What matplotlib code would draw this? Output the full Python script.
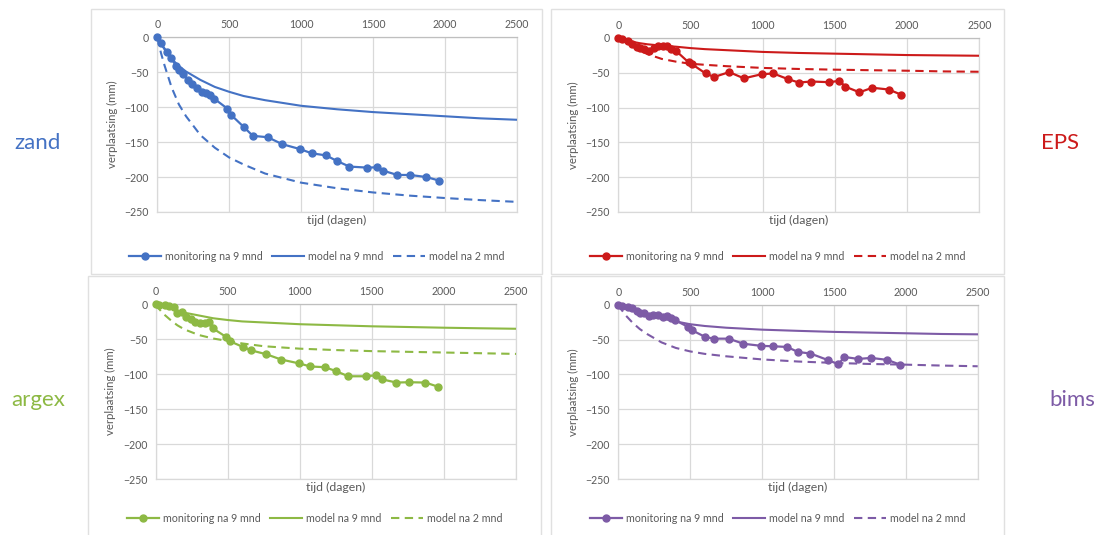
import numpy as np
import matplotlib
matplotlib.use("Agg")
import matplotlib.pyplot as plt
from matplotlib.patches import Rectangle

plt.rcParams["font.family"] = ["Lato", "DejaVu Sans"]

# =====================================================
# DATA
# =====================================================

# monitoring dates (days)
dagen = [0, 25, 65, 95, 130, 148, 181, 211, 244, 274, 309, 339, 367, 397,
         487, 513, 605, 664, 768, 870, 993, 1074, 1174, 1250, 1336, 1462,
         1531, 1573, 1670, 1759, 1872, 1960]

zand_mon = [0, -8.6, -20.5, -29, -41, -47, -52.5, -61, -67, -73, -78, -79, -82.5, -88,
            -102, -111, -129, -141, -143, -153, -160, -166, -169, -177, -185, -186.5,
            -186, -191, -197, -197, -200, -205]
eps_mon = [0, -2, -4, -8, -12.5, -14, -16, -18, -15, -12, -11.5, -11.5, -16, -18,
           -35, -38, -51, -56, -49, -58, -52, -51, -59, -64, -62.5, -63.5,
           -61.5, -70, -78, -71.5, -74, -81.5]
argex_mon = [0, -1, -1.5, -2, -4.5, -12, -11.5, -18, -21, -26, -26.5, -26.5, -25, -34.5,
             -46.5, -52.7, -61, -66, -71.5, -79, -84.5, -89, -90, -95.5, -103, -103,
             -101.5, -107.5, -112, -111.5, -112, -118]
bims_mon = [0, -1.5, -3.3, -5, -9, -11.5, -11.5, -16, -15, -15, -17.6, -16.7, -18.6, -22.4,
            -32, -36.7, -46.3, -48.7, -48.7, -56, -59, -59.6, -60.6, -67.8, -70, -79.7,
            -85.4, -75, -77.8, -76.3, -79.2, -86]

# model curves (days)
model_dagen = [0, 25, 50, 100, 150, 200, 300, 400, 500, 600, 750, 1000, 1250,
               1500, 1750, 2000, 2250, 2500]

zand_9 = [0, -9, -17, -31, -41, -49, -61, -71, -78, -84, -90, -98, -103, -107, -110, -113, -116, -118]
zand_2 = [0, -22, -40, -72, -96, -113, -140, -158, -172, -182, -195, -208, -216, -222, -226.5, -230, -233, -235.5]
eps_9 = [0, -1.5, -3, -5.5, -7.5, -9, -11, -12.5, -14.5, -16, -17.5, -20, -21.5, -22.5, -23.5, -24.5, -25, -25.5]
eps_2 = [0, -3, -6, -12, -18, -23, -30, -34, -37, -38.5, -40.5, -43, -44.5, -45.5, -46.3, -47, -48, -48.5]
argex_9 = [0, -1.5, -3, -6, -9, -12, -16, -20, -22.5, -24.5, -26, -28.5, -30, -31.5, -32.5, -33.5, -34.3, -35]
argex_2 = [0, -7, -13, -22, -30, -36, -44, -49, -52.5, -56, -60, -63.5, -65.5, -67, -68, -69, -70, -71]
bims_9 = [0, -2, -4, -7, -10, -13, -19, -24, -28, -30.5, -33, -35.8, -37.5, -39, -40, -41, -42, -42.5]
bims_2 = [0, -8, -15, -26, -35, -42, -54, -62, -67, -70.5, -74, -78.5, -81.5, -83.5, -85, -86, -87.3, -88.3]

x_ticks = [0, 500, 1000, 1500, 2000, 2500]
y_ticks = [0, -50, -100, -150, -200, -250]

# =====================================================
# LAYOUT (pixels)
# =====================================================
W, H = 1103, 535

panels = [
    # name, colour, monitoring, model 9, model 2, plot box, chart box, label pos
    ("zand", "#4472C4", zand_mon, zand_9, zand_2,
     (157.3, 37.3, 516.7, 212), (91, 9, 542, 274), (38, 143)),
    ("EPS", "#CC1A1A", eps_mon, eps_9, eps_2,
     (618.3, 38, 979.3, 212), (551, 9, 1004, 274), (1060, 143)),
    ("argex", "#8DB944", argex_mon, argex_9, argex_2,
     (155.7, 304.3, 516, 479), (88, 276, 541, 536), (38, 400)),
    ("bims", "#7D5BA6", bims_mon, bims_9, bims_2,
     (618.3, 304.7, 977.7, 479), (551, 276, 1004, 536), (1072, 400)),
]

fig = plt.figure(figsize=(W / 100, H / 100), dpi=100)

grid_c = "#D9D9D9"
text_c = "#595959"

for name, col, mon, m9, m2, pbox, cbox, lpos in panels:

    # chart border
    fig.patches.append(Rectangle(
        (cbox[0] / W, 1 - cbox[3] / H),
        (cbox[2] - cbox[0]) / W,
        (cbox[3] - cbox[1]) / H,
        transform=fig.transFigure, fill=False,
        edgecolor="#E0E0E0", linewidth=1.0
    ))

    ax = fig.add_axes([
        pbox[0] / W, 1 - pbox[3] / H,
        (pbox[2] - pbox[0]) / W, (pbox[3] - pbox[1]) / H
    ])

    ax.plot(dagen, mon, color=col, linewidth=1.6, marker="o",
            markersize=5, label="monitoring na 9 mnd", zorder=4,
            clip_on=False)
    ax.plot(model_dagen, m9, color=col, linewidth=1.5,
            label="model na 9 mnd", zorder=3)
    ax.plot(model_dagen, m2, color=col, linewidth=1.5,
            linestyle=(0, (4, 2.6)), label="model na 2 mnd", zorder=3)

    ax.set_xlim(0, 2500)
    ax.set_ylim(-250, 0)
    ax.set_xticks(x_ticks)
    ax.set_yticks(y_ticks)
    ax.xaxis.tick_top()
    ax.xaxis.set_label_position("bottom")
    ax.tick_params(length=0, labelsize=7.6, labelcolor=text_c)
    ax.tick_params(axis="x", pad=5)
    ax.tick_params(axis="y", pad=6)
    ax.grid(True, color=grid_c, linewidth=0.9)
    ax.set_axisbelow(True)
    for s in ax.spines.values():
        s.set_color(grid_c)
        s.set_linewidth(0.9)
    ax.spines["top"].set_color("#BFBFBF")

    ax.set_xlabel("tijd (dagen)", fontsize=8.8, color=text_c, labelpad=2)
    ax.set_ylabel("verplaatsing (mm)", fontsize=8.2, color=text_c, labelpad=5)

    # legend below the chart
    leg_y = 1 - (cbox[3] - 18) / H
    leg_x = (cbox[0] + cbox[2]) / 2 / W
    fig.legend(
        handles=ax.get_lines(),
        loc="center",
        bbox_to_anchor=(leg_x, leg_y),
        ncol=3,
        frameon=False,
        fontsize=7.7,
        labelcolor=text_c,
        handlelength=3.0,
        handletextpad=0.35,
        columnspacing=0.9,
    )

    fig.text(lpos[0] / W, 1 - lpos[1] / H, name, color=col,
             fontsize=16, ha="center", va="center")

fig.savefig("out.png", dpi=100)
